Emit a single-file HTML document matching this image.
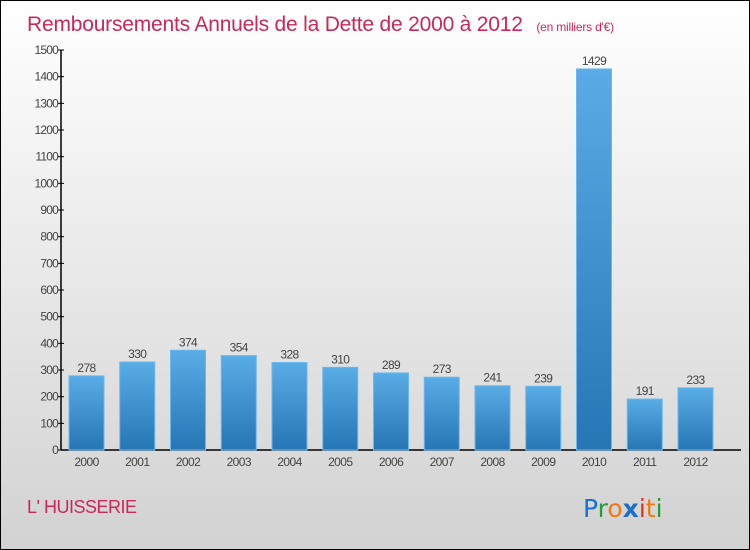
<!DOCTYPE html>
<html><head><meta charset="utf-8"><style>
body{margin:0}
#c{position:relative;width:748px;height:548px;border:1px solid #000;background:linear-gradient(#fff,#d2d2d2);overflow:hidden;font-family:"Liberation Sans",sans-serif}
</style></head><body>
<div id="c">
<svg width="748" height="548">
<defs><linearGradient id="g" x1="0" y1="0" x2="0" y2="1"><stop offset="0" stop-color="#5aace6"/><stop offset="1" stop-color="#2576b4"/></linearGradient></defs>
<text x="26" y="30" font-size="21" fill="#c8285a" font-family="Liberation Sans" letter-spacing="-0.2">Remboursements Annuels de la Dette de 2000 à 2012 <tspan font-size="12" letter-spacing="-0.2" dx="8">(en milliers d'€)</tspan></text>
<g id="plot"></g>
<text x="26" y="512" font-size="18" fill="#c8285a" letter-spacing="-0.5">L' HUISSERIE</text>
<g font-size="25" font-family="DejaVu Sans"><text x="582" y="516" fill="#1a6fd0">P<tspan fill="#2a9a3a">r</tspan><tspan fill="#f07a10">o</tspan><tspan fill="#1a6fd0" font-weight="bold">x</tspan><tspan fill="#e03020">i</tspan><tspan fill="#f07a10">t</tspan><tspan fill="#2a9a3a">i</tspan></text></g>
</svg></div>
<script>
const years=["2000","2001","2002","2003","2004","2005","2006","2007","2008","2009","2010","2011","2012"];
const values=[278,330,374,354,328,310,289,273,241,239,1429,191,233];
const ticks=[0,100,200,300,400,500,600,700,800,900,1000,1100,1200,1300,1400,1500];
const NS="http://www.w3.org/2000/svg",g=document.getElementById('plot');
const y=v=>449-v*400/1500, x=i=>85.5+i*50.75;
function el(t,a){const e=document.createElementNS(NS,t);for(const k in a)e.setAttribute(k,a[k]);g.appendChild(e);return e;}
let ax=el('line',{x1:60,y1:49,x2:60,y2:449,stroke:'#000','stroke-width':1.5});


let bx=el('line',{x1:60,y1:449,x2:740,y2:449,stroke:'#000','stroke-width':1.5});


ticks.forEach(t=>{
 const l=el('line',{x1:57,x2:63,y1:y(t),y2:y(t),stroke:'#000'});
 
 
 const tx=el('text',{x:57,y:y(t)+4,'font-size':12,'text-anchor':'end',fill:'#444','letter-spacing':'-0.8'});
 tx.textContent=t;
 
 
});
values.forEach((v,i)=>{
 const r=el('rect',{x:x(i)-17.5,y:y(v),width:35,height:449-y(v),fill:'url(#g)',stroke:'#6ab8ee','stroke-width':1});
 
 
 const vt=el('text',{x:x(i),y:y(v)-4,'font-size':12,'text-anchor':'middle',fill:'#444','letter-spacing':'-0.6'});
 vt.textContent=v;
 
 
 const xt=el('text',{x:x(i),y:465,'font-size':12,'text-anchor':'middle',fill:'#444','letter-spacing':'-0.6'});
 xt.textContent=years[i];
 
 
});
</script>
</body></html>
